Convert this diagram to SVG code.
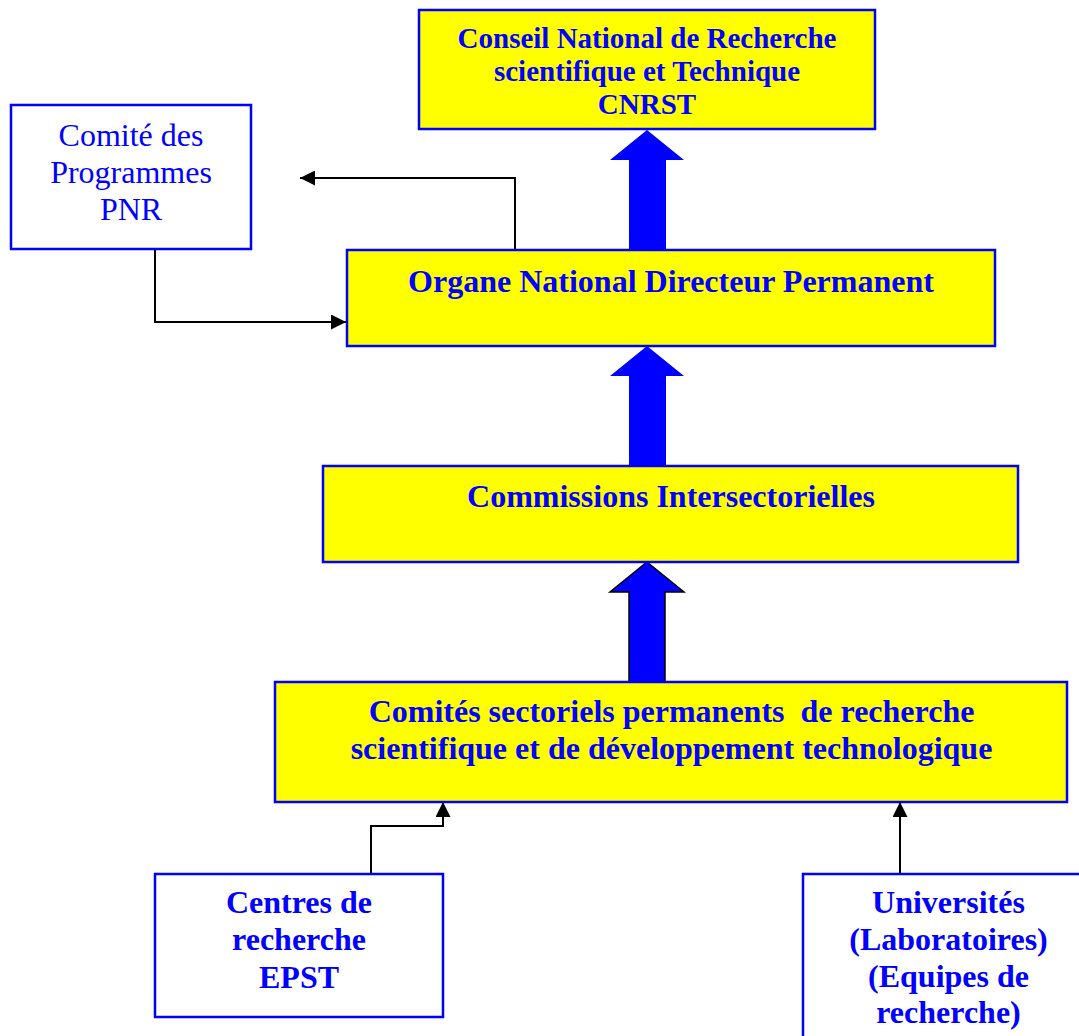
<svg xmlns="http://www.w3.org/2000/svg" width="1079" height="1036" viewBox="0 0 1079 1036">
<defs>
<style>
.box{fill:#FFFF00;stroke:#0000FF;stroke-width:2.5}
.wbox{fill:#FFFFFF;stroke:#0000FF;stroke-width:2.5}
text{font-family:"Liberation Serif","Times New Roman",serif;fill:#0000FF;text-anchor:middle}
.b{font-weight:bold;font-size:32px}
.b29{font-weight:bold;font-size:29px}
.r{font-size:32px}
.conn{fill:none;stroke:#000000;stroke-width:2}
.fat{fill:#0000FF;stroke:none}
.fatk{fill:#0000FF;stroke:#000000;stroke-width:1.5}
</style>
<marker id="ah" viewBox="0 0 10 10" refX="10" refY="5" markerWidth="7.5" markerHeight="7.5" markerUnits="userSpaceOnUse" orient="auto">
<path d="M0,0 L10,5 L0,10 z" fill="#000000"/>
</marker>
<marker id="ah2" viewBox="0 0 10 10" refX="10" refY="5" markerWidth="15" markerHeight="15" markerUnits="userSpaceOnUse" orient="auto">
<path d="M0,0 L10,5 L0,10 z" fill="#000000"/>
</marker>
</defs>

<g id="connectors">
<polyline class="conn" points="515,249 515,178 300,178" marker-end="url(#ah2)"/>
<polyline class="conn" points="155,249 155,322 346,322" marker-end="url(#ah2)"/>
<polyline class="conn" points="371,873 371,826 443,826 443,802" marker-end="url(#ah2)"/>
<polyline class="conn" points="900,873 900,802" marker-end="url(#ah2)"/>
<polygon class="fat" points="647,130 684,160 666,160 666,250 629,250 629,160 610,160"/>
<polygon class="fat" points="647,346 684,376 666,376 666,466 629,466 629,376 610,376"/>
<polygon class="fatk" points="647,562 684,592 665,592 665,682 629,682 629,592 610,592"/>
</g>

<g id="cnrst">
<rect class="box" x="419" y="10" width="456" height="119"/>
<text class="b29" x="647" y="48">Conseil National de Recherche</text>
<text class="b29" x="647" y="81">scientifique et Technique</text>
<text class="b29" x="647" y="114">CNRST</text>
</g>

<g id="comite-programmes">
<rect class="wbox" x="11" y="105" width="240" height="144"/>
<text class="r" x="131" y="146">Comité des</text>
<text class="r" x="131" y="183">Programmes</text>
<text class="r" x="131" y="220">PNR</text>
</g>

<g id="organe">
<rect class="box" x="347" y="250" width="648" height="96"/>
<text class="b" x="671" y="292">Organe National Directeur Permanent</text>
</g>

<g id="commissions">
<rect class="box" x="323" y="466" width="695" height="96"/>
<text class="b" x="671" y="507">Commissions Intersectorielles</text>
</g>

<g id="comites-sectoriels">
<rect class="box" x="275" y="682" width="792" height="120"/>
<text class="b" x="671.5" y="722" xml:space="preserve">Comités sectoriels permanents  de recherche</text>
<text class="b" x="671.5" y="759">scientifique et de développement technologique</text>
</g>

<g id="centres">
<rect class="wbox" x="155" y="874" width="288" height="143"/>
<text class="b" x="299" y="913">Centres de</text>
<text class="b" x="299" y="950">recherche</text>
<text class="b" x="299" y="988">EPST</text>
</g>

<g id="universites">
<rect class="wbox" x="803" y="874" width="290" height="180"/>
<text class="b" x="948.5" y="913">Universités</text>
<text class="b" x="948.5" y="950">(Laboratoires)</text>
<text class="b" x="948.5" y="987">(Equipes de</text>
<text class="b" x="948.5" y="1023">recherche)</text>
</g>
</svg>
